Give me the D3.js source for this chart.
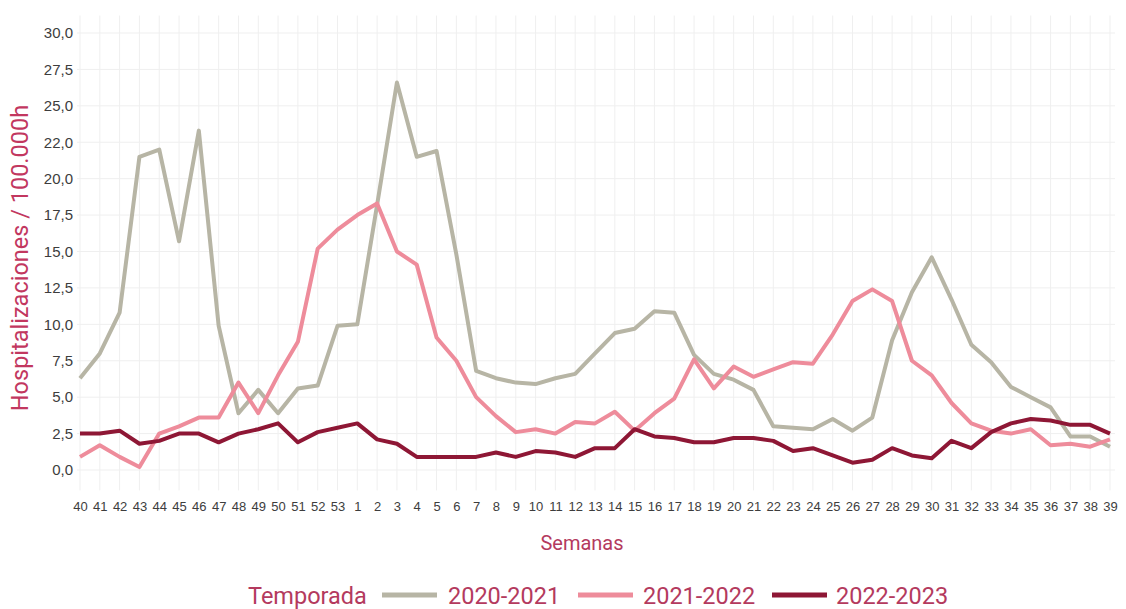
<!DOCTYPE html>
<html>
<head>
<meta charset="utf-8">
<script src="https://cdn.jsdelivr.net/npm/d3@7"></script>
<style>
  body { margin: 0; background: #fff; }
  svg { font-family: "Roboto", "Inter", sans-serif; }
  .grid line { stroke: #efefef; stroke-width: 1; }
  .axis path, .axis line { display: none; }
</style>
</head>
<body>
<svg id="chart" width="1126" height="609"></svg>
<script>
// semanas epidemiologicas
var weeks = [40,41,42,43,44,45,46,47,48,49,50,51,52,53,1,2,3,4,5,6,7,8,9,10,11,12,13,14,15,16,17,18,19,20,21,22,23,24,25,26,27,28,29,30,31,32,33,34,35,36,37,38,39];

var yTicks = [0, 2.5, 5, 7.5, 10, 12.5, 15, 17.5, 20, 22.5, 25, 27.5, 30];
var yTickLabels = ["0,0","2,5","5,0","7,5","10,0","12,5","15,0","17,5","20,0","22,0","25,0","27,5","30,0"];

var seasons = ["2020-2021", "2021-2022", "2022-2023"];
var colors = ["#b7b5a5", "#ee8c9b", "#8e1735"];

var s2020 = [6.3,8.0,10.8,21.5,22.0,15.7,23.3,9.9,3.9,5.5,3.9,5.6,5.8,9.9,10.0,18.2,26.6,21.5,21.9,14.8,6.8,6.3,6.0,5.9,6.3,6.6,8.0,9.4,9.7,10.9,10.8,7.9,6.6,6.2,5.5,3.0,2.9,2.8,3.5,2.7,3.6,8.9,12.2,14.6,11.7,8.6,7.4,5.7,5.0,4.3,2.3,2.3,1.6];
var s2021 = [0.9,1.7,0.9,0.2,2.5,3.0,3.6,3.6,6.0,3.9,6.5,8.8,15.2,16.5,17.5,18.3,15.0,14.1,9.1,7.5,5.0,3.7,2.6,2.8,2.5,3.3,3.2,4.0,2.7,3.9,4.9,7.6,5.6,7.1,6.4,6.9,7.4,7.3,9.3,11.6,12.4,11.6,7.5,6.5,4.6,3.2,2.7,2.5,2.8,1.7,1.8,1.6,2.1];
var s2022 = [2.5,2.5,2.7,1.8,2.0,2.5,2.5,1.9,2.5,2.8,3.2,1.9,2.6,2.9,3.2,2.1,1.8,0.9,0.9,0.9,0.9,1.2,0.9,1.3,1.2,0.9,1.5,1.5,2.8,2.3,2.2,1.9,1.9,2.2,2.2,2.0,1.3,1.5,1.0,0.5,0.7,1.5,1.0,0.8,2.0,1.5,2.6,3.2,3.5,3.4,3.1,3.1,2.5];

var svg = d3.select("#chart");
var plotLeft = 80, plotRight = 1110, plotTop = 33, plotBottom = 470;

var x = d3.scalePoint()
    .domain(weeks)
    .range([plotLeft, plotRight]);

var y = d3.scaleLinear()
    .domain([0, 30])
    .range([plotBottom, plotTop]);

// rejilla
var grid = svg.append("g").attr("class", "grid");
grid.selectAll("line.v")
    .data(weeks)
    .enter()
    .append("line")
    .attr("class", "v")
    .attr("x1", function(d) { return x(d); })
    .attr("x2", function(d) { return x(d); })
    .attr("y1", y(31.2))
    .attr("y2", y(-1.4));
grid.selectAll("line.h")
    .data(yTicks)
    .enter()
    .append("line")
    .attr("class", "h")
    .attr("x1", plotLeft - 3)
    .attr("x2", plotRight + 5)
    .attr("y1", function(d) { return y(d); })
    .attr("y2", function(d) { return y(d); });

// ejes
var yAxis = d3.axisLeft(y)
    .tickValues(yTicks)
    .tickSize(0)
    .tickPadding(7)
    .tickFormat(function(d, i) { return yTickLabels[i]; });
svg.append("g")
    .attr("class", "axis")
    .attr("transform", "translate(" + plotLeft + ",0)")
    .call(yAxis)
    .selectAll("text")
    .attr("fill", "#3d3d3d")
    .style("font-size", "15px");

var xAxis = d3.axisBottom(x).tickSize(0).tickPadding(0);
svg.append("g")
    .attr("class", "axis")
    .attr("transform", "translate(0,502)")
    .call(xAxis)
    .selectAll("text")
    .attr("fill", "#3d3d3d")
    .style("font-size", "13px");

svg.append("text")
    .attr("transform", "translate(28,258) rotate(-90)")
    .attr("text-anchor", "middle")
    .attr("fill", "#c2375f")
    .style("font-size", "23.5px")
    .text("Hospitalizaciones / 100.000h");

svg.append("text")
    .attr("x", 582)
    .attr("y", 550)
    .attr("text-anchor", "middle")
    .attr("fill", "#b43a5e")
    .style("font-size", "20px")
    .text("Semanas");

// lineas
var line = d3.line()
    .x(function(d, i) { return x(weeks[i]); })
    .y(function(d) { return y(d); });

[s2020, s2021, s2022].forEach(function(s, k) {
    svg.append("path")
        .datum(s)
        .attr("fill", "none")
        .attr("stroke", colors[k])
        .attr("stroke-width", 4)
        .attr("stroke-linejoin", "round")
        .attr("d", line);
});

// leyenda
var legend = svg.append("g").attr("transform", "translate(0,595)");
legend.append("text")
    .attr("x", 248)
    .attr("y", 8.5)
    .attr("fill", "#b43a5e")
    .style("font-size", "23.5px")
    .text("Temporada");
var swX = [382, 578, 772];
var txtX = [448, 643, 836];
seasons.forEach(function(s, k) {
    legend.append("line")
        .attr("x1", swX[k])
        .attr("x2", swX[k] + 55)
        .attr("y1", 0)
        .attr("y2", 0)
        .attr("stroke", colors[k])
        .attr("stroke-width", 5);
    legend.append("text")
        .attr("x", txtX[k])
        .attr("y", 8.5)
        .attr("fill", "#b43a5e")
        .style("font-size", "23.5px")
        .text(s);
});
</script>
</body>
</html>
